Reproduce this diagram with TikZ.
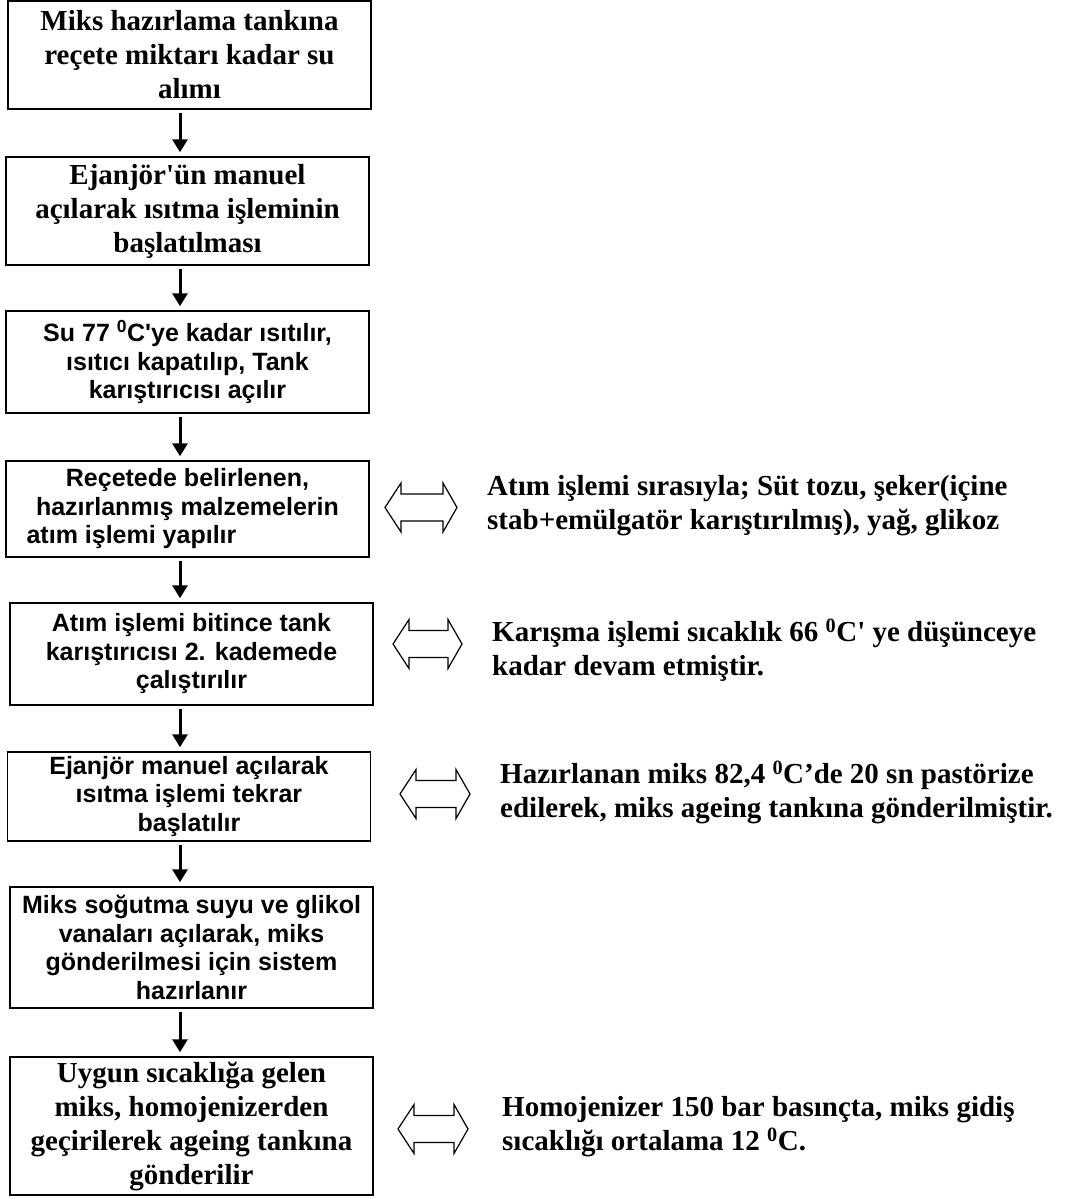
\documentclass[tikz,border=0pt]{standalone}
\usepackage{fontspec}
\setmainfont{Liberation Serif}
\newfontfamily\timesf{Liberation Serif}
\newfontfamily\arialf{Liberation Sans}
\usetikzlibrary{arrows.meta}
\newcommand\dblarr[4]{% name, left x, right x, centre y
  \coordinate (#1) at ({(#2+#3)/2},#4);
  \draw[dblstyle] (#2,#4) -- ++(16,-24.5) -- ++(0,11) -- (#3-14,#4-13.5) -- ++(0,-11) -- (#3,#4)
    -- ++(-14,24.5) -- ++(0,-11) -- (#2+16,#4+13.5) -- ++(0,11) -- cycle;}
\begin{document}
\begin{tikzpicture}[x=1pt,y=-1pt,
  box/.style={draw, line width=1.5pt, inner sep=0pt, align=center, minimum width=363pt},
  ser/.style={font=\timesf\fontsize{29}{34}\selectfont\bfseries},
  san/.style={font=\arialf\fontsize{25}{28.5}\selectfont\bfseries},
  down/.style={line width=3pt, -{Triangle[width=15pt,length=13pt]}, shorten <=3pt, shorten >=4pt},
  dblstyle/.style={draw, line width=1.2pt, line join=miter},
  note/.style={anchor=west, align=left, inner sep=0pt, font=\timesf\fontsize{29}{34}\selectfont\bfseries}]
\useasboundingbox (0,0) rectangle (1088,1199);
\fill[white] (0,0) rectangle (1088,1199);

\node[box, ser, minimum height=108pt] (b1) at (189.5,55) {Miks hazırlama tankına\\reçete miktarı kadar su\\alımı};
\node[box, ser, minimum height=108pt] (b2) at (187.5,211) {Ejanjör'ün manuel\\açılarak ısıtma işleminin\\başlatılması};
\node[box, san, minimum height=102pt] (b3) at (187.5,362) {Su 77 \textsuperscript{0}C'ye kadar ısıtılır,\\ısıtıcı kapatılıp, Tank\\karıştırıcısı açılır};
\node[box, san, minimum height=96pt] (b4) at (187.5,509) {Reçetede belirlenen,\\hazırlanmış malzemelerin\\atım işlemi yapılır\hspace*{112pt}};
\node[box, san, minimum height=102pt] (b5) at (191.5,654) {Atım işlemi bitince tank\\karıştırıcısı 2. kademede\\çalıştırılır};
\node[box, san, minimum height=89pt] (b6) at (189,796.5) {Ejanjör manuel açılarak\\ısıtma işlemi tekrar\\başlatılır};
\node[box, san, minimum height=121pt] (b7) at (191.5,947.5) {Miks soğutma suyu ve glikol\\vanaları açılarak, miks\\gönderilmesi için sistem\\hazırlanır};
\node[box, ser, minimum height=138pt] (b8) at (191.5,1126) {Uygun sıcaklığa gelen\\miks, homojenizerden\\geçirilerek ageing tankına\\gönderilir};

\coordinate (ax) at (180,0);
\draw[down] (b1.south -| ax) -- (b2.north -| ax);
\draw[down] (b2.south -| ax) -- (b3.north -| ax);
\draw[down] (b3.south -| ax) -- (b4.north -| ax);
\draw[down] (b4.south -| ax) -- (b5.north -| ax);
\draw[down] (b5.south -| ax) -- (b6.north -| ax);
\draw[down] (b6.south -| ax) -- (b7.north -| ax);
\draw[down] (b7.south -| ax) -- (b8.north -| ax);

\dblarr{d4}{385}{457}{507.5}
\dblarr{d5}{393}{462}{644}
\dblarr{d6}{400}{470}{794}
\dblarr{d8}{398}{468}{1129}

\node[note] (n4) at (487,506) {Atım işlemi sırasıyla; Süt tozu, şeker(içine\\stab+emülgatör karıştırılmış), yağ, glikoz};
\node[note] (n5) at (492,650) {Karışma işlemi sıcaklık 66 \textsuperscript{0}C' ye düşünceye\\kadar devam etmiştir.};
\node[note] (n6) at (500,792) {Hazırlanan miks 82,4 \textsuperscript{0}C’de 20 sn pastörize\\edilerek, miks ageing tankına gönderilmiştir.};
\node[note] (n8) at (502,1127) {Homojenizer 150 bar basınçta, miks gidiş\\sıcaklığı ortalama 12 \textsuperscript{0}C.};
\end{tikzpicture}
\end{document}
